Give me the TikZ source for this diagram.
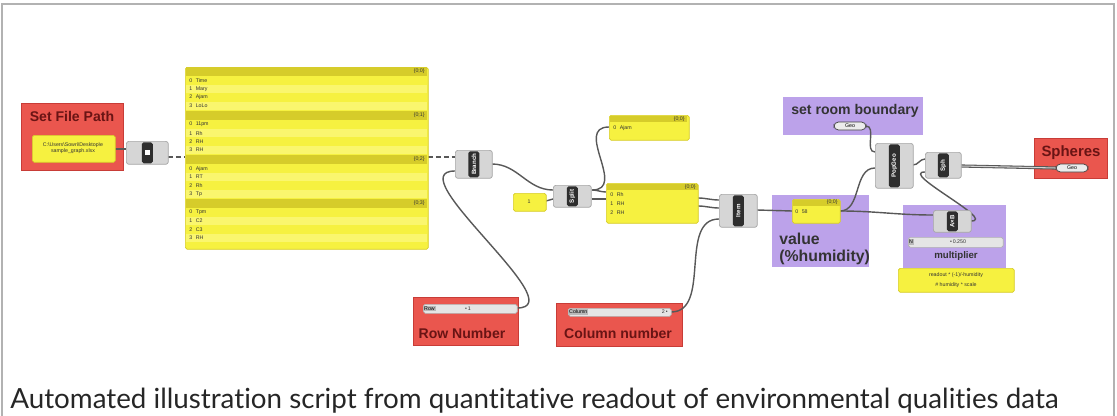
\documentclass[tikz,border=0pt]{standalone}
\usepackage{fontspec}
\setmainfont{Liberation Sans}
\newfontfamily\captionfont[Ligatures=NoCommon]{Lato}
\usetikzlibrary{positioning}

\definecolor{ghred}{RGB}{234,86,78}
\definecolor{ghredline}{RGB}{200,60,55}
\definecolor{ghtitle}{RGB}{105,20,20}
\definecolor{ghpurple}{RGB}{188,162,234}
\definecolor{ghyellow}{RGB}{246,241,64}
\definecolor{ghyellowlt}{RGB}{250,246,110}
\definecolor{ghyellowdk}{RGB}{214,204,42}
\definecolor{ghwire}{RGB}{88,88,88}
\definecolor{ghgray}{RGB}{214,214,214}

\begin{document}
\begin{tikzpicture}[x=0.02cm, y=-0.02cm,
    redgroup/.style={
        rectangle,
        draw=ghredline,
        fill=ghred,
        anchor=north west,
        inner sep=0pt},
    purplegroup/.style={
        rectangle,
        fill=ghpurple,
        anchor=north west,
        inner sep=0pt},
    grouptitle/.style={
        font=\bfseries\fontsize{8}{9}\selectfont,
        text=ghtitle,
        inner sep=0pt},
    panel/.style={
        rectangle,
        rounded corners=1pt,
        draw=ghyellowdk,
        fill=ghyellow,
        anchor=north west,
        inner sep=0pt},
    comp/.style={
        rectangle,
        rounded corners=1.5pt,
        draw=gray!70,
        fill=ghgray,
        anchor=north west,
        inner sep=0pt},
    compbar/.style={
        rectangle,
        rounded corners=1pt,
        fill=black!82,
        text=white,
        rotate=90,
        inner sep=0pt,
        minimum height=0.22cm,
        font=\bfseries\fontsize{3.5}{4}\selectfont},
    slider/.style={
        rectangle,
        rounded corners=1pt,
        draw=gray!60,
        fill=gray!20,
        anchor=north west,
        inner sep=0pt},
    slidertag/.style={
        rectangle,
        fill=gray!55,
        anchor=west,
        inner sep=0.5pt,
        font=\fontsize{3}{3.5}\selectfont},
    capsule/.style={
        rectangle,
        rounded corners=2.5pt,
        draw=gray!50!black,
        fill=gray!15,
        minimum width=0.64cm,
        minimum height=0.16cm,
        inner sep=0pt,
        font=\fontsize{3}{3.5}\selectfont},
    tiny/.style={
        font=\fontsize{3}{3.5}\selectfont,
        text=black!80,
        inner sep=0pt},
    wire/.style={
        draw=ghwire,
        line width=0.8pt},
    dashwire/.style={
        wire,
        dash pattern=on 3pt off 1.5pt}
    ]

    \useasboundingbox (0,0) rectangle (1117,416);
    \draw [gray!60, line width=0.6pt] (2,416) -- (2,4) -- (1114,4) -- (1114,416);

    % groups
    \node (pathgroup) [redgroup, minimum width=2.04cm, minimum height=1.34cm] at (21,103) {};
    \node (pathtitle) [grouptitle] at (72,116) {Set File Path};
    \node (rowgroup) [redgroup, minimum width=2.1cm, minimum height=0.96cm] at (413,297) {};
    \node (rowtitle) [grouptitle] at (462,333) {Row Number};
    \node (colgroup) [redgroup, minimum width=2.52cm, minimum height=0.86cm] at (556,303) {};
    \node (coltitle) [grouptitle] at (618,333) {Column number};
    \node (roomgroup) [purplegroup, minimum width=2.8cm, minimum height=0.76cm] at (783,97) {};
    \node (roomtitle) [grouptitle, text=black!80] at (855,111) {set room boundary};
    \node (valuegroup) [purplegroup, minimum width=1.94cm, minimum height=1.44cm] at (772,195) {};
    \node (valuetitle) [grouptitle, text=black!80, font=\bfseries\fontsize{9}{9.5}\selectfont, align=left, anchor=north west] at (779,233) {value\\(\%humidity)};
    \node (multgroup) [purplegroup, minimum width=2.06cm, minimum height=1.26cm] at (903,205) {};
    \node (multtitle) [grouptitle, text=black!80, font=\bfseries\fontsize{5.5}{6}\selectfont] at (956,256) {multiplier};
    \node (spheregroup) [redgroup, minimum width=1.46cm, minimum height=0.8cm] at (1034,138) {};
    \node (spheretitle) [grouptitle, font=\bfseries\fontsize{8.5}{9}\selectfont] at (1071,153) {Spheres};

    % ports
    \coordinate (pathout) at (115,149);
    \coordinate (readin) at (126,149);
    \coordinate (readout) at (168,157);
    \coordinate (tablein) at (185,157);
    \coordinate (tableout) at (428,157);
    \coordinate (branchin1) at (455,157);
    \coordinate (branchin2) at (455,171);
    \coordinate (rowout) at (517,308);
    \coordinate (branchout) at (492,164);
    \coordinate (splitin1) at (553,190);
    \coordinate (splitin2) at (553,199);
    \coordinate (oneout) at (546,201);
    \coordinate (splitout1) at (592,190);
    \coordinate (splitout2) at (592,199);
    \coordinate (listin1) at (606,192);
    \coordinate (listin2) at (606,199);
    \coordinate (ajamin) at (609,127);
    \coordinate (listout1) at (698,198);
    \coordinate (listout2) at (698,206);
    \coordinate (itemin1) at (719,200);
    \coordinate (itemin2) at (719,208);
    \coordinate (itemin3) at (719,219);
    \coordinate (colout) at (671,312);
    \coordinate (itemout) at (757,210);
    \coordinate (valuein) at (792,211);
    \coordinate (valueout) at (840,211);
    \coordinate (geoout) at (866,126);
    \coordinate (popin1) at (875,152);
    \coordinate (popin2) at (875,168);
    \coordinate (popout) at (913,165);
    \coordinate (multin) at (933,215);
    \coordinate (multout) at (971,221);
    \coordinate (sphin1) at (925,159);
    \coordinate (sphin2) at (925,172);
    \coordinate (sphout) at (961,166);
    \coordinate (spherein) at (1056,168);

    % wires
    \draw [wire] (pathout) -- (readin);
    \draw [dashwire] (readout) -- (tablein);
    \draw [dashwire] (tableout) -- (branchin1);
    \draw [wire] (rowout) to[out=0, in=180] (branchin2);
    \draw [wire] (branchout) to[out=0, in=180] (splitin1);
    \draw [wire] (oneout) to[out=0, in=180] (splitin2);
    \draw [wire] (splitout1) to[out=0, in=180] (listin1);
    \draw [wire] (splitout2) to[out=0, in=180] (listin2);
    \draw [wire] (splitout1) to[out=0, in=180, looseness=1.4] (ajamin);
    \draw [wire] (listout1) to[out=0, in=180] (itemin1);
    \draw [wire] (listout2) to[out=0, in=180] (itemin2);
    \draw [wire] (colout) to[out=0, in=180] (itemin3);
    \draw [wire] (itemout) -- (valuein);
    \draw [wire] (valueout) to[out=0, in=180] (popin2);
    \draw [wire] (valueout) to[out=0, in=180] (multin);
    \draw [wire] (geoout) to[out=0, in=180] (popin1);
    \draw [wire] (popout) to[out=0, in=180] (sphin1);
    \draw [wire] (multout) to[out=0, in=180] (sphin2);
    \draw [wire, line width=0.6pt, double=gray!35, double distance=0.6pt] (sphout) -- (spherein);

    % file path
    \node (pathpanel) [panel, minimum width=1.66cm, minimum height=0.54cm] at (32,135) {};
    \node (pathtext) [tiny, align=center] at (73,148) {C:\textbackslash Users\textbackslash Sowri\textbackslash Desktop\textbackslash e\\sample\_graph.xlsx};
    \node (readcomp) [comp, minimum width=0.84cm, minimum height=0.46cm] at (126,141) {};
    \node (readbar) [compbar, minimum width=0.42cm] at (readcomp.center) {};
    \node (readicon) [fill=white, minimum size=0.1cm, inner sep=0pt] at (readcomp.center) {};

    % data table
    \node (table) [panel, minimum width=4.86cm, minimum height=3.64cm] at (185,67) {};
    \foreach \s/\a/\b/\c/\d in {0/Time/Mary/Ajam/LoLo, 1/11pm/Rh/RH/RH, 2/Ajam/RT/Rh/Tp, 3/Tpm/C2/C3/RH} {
        \fill [ghyellowdk] (186,{67+44*\s}) rectangle (427,{75.5+44*\s});
        \fill [ghyellowlt] (186,{85+44*\s}) rectangle (427,{93.4+44*\s});
        \fill [ghyellowlt] (186,{101.8+44*\s}) rectangle (427,{110.2+44*\s});
        \node (head-\s) [tiny, anchor=east] at (425,{71.3+44*\s}) {\{0;\s\}};
        \node (row-\s-0) [tiny, anchor=west] at (189,{80.7+44*\s}) {0\hspace{2pt}\a};
        \node (row-\s-1) [tiny, anchor=west] at (189,{89.1+44*\s}) {1\hspace{2pt}\b};
        \node (row-\s-2) [tiny, anchor=west] at (189,{97.5+44*\s}) {2\hspace{2pt}\c};
        \node (row-\s-3) [tiny, anchor=west] at (189,{105.9+44*\s}) {3\hspace{2pt}\d};
    }

    % branch and split
    \node (branch) [comp, minimum width=0.74cm, minimum height=0.56cm] at (455,150) {};
    \node (branchbar) [compbar, minimum width=0.52cm] at (branch.center) {Branch};
    \node (rowslider) [slider, minimum width=1.88cm, minimum height=0.18cm] at (423,304) {};
    \node (rowtag) [slidertag] at (423,308.5) {Row};
    \node (rowvalue) [tiny] at (468,308.5) {\textbullet\,1};
    \node (onepanel) [panel, minimum width=0.66cm, minimum height=0.36cm] at (513,193) {};
    \node (onetext) [tiny] at (529,202) {1};
    \node (split) [comp, minimum width=0.76cm, minimum height=0.44cm] at (553,185) {};
    \node (splitbar) [compbar, minimum width=0.4cm] at (split.center) {Split};

    % lists
    \node (ajampanel) [panel, minimum width=1.6cm, minimum height=0.5cm] at (609,115) {};
    \fill [ghyellowdk] (609.5,115.5) rectangle (686.5,122);
    \node (ajamhead) [tiny, anchor=east] at (685,118.8) {\{0;0\}};
    \node (ajamrow) [tiny, anchor=west] at (613,128) {0\hspace{2pt}Ajam};
    \node (listpanel) [panel, minimum width=1.84cm, minimum height=0.8cm] at (606,183) {};
    \fill [ghyellowdk] (606.5,183.5) rectangle (697.5,190);
    \node (listhead) [tiny, anchor=east] at (696,186.8) {\{0;0\}};
    \node (listrow0) [tiny, anchor=west] at (610,195) {0\hspace{2pt}Rh};
    \node (listrow1) [tiny, anchor=west] at (610,204) {1\hspace{2pt}RH};
    \node (listrow2) [tiny, anchor=west] at (610,213) {2\hspace{2pt}RH};
    \node (colslider) [slider, minimum width=2.06cm, minimum height=0.16cm] at (568,308) {};
    \node (coltag) [slidertag] at (568,312) {Column};
    \node (colvalue) [tiny, anchor=east] at (668,312) {2\,\textbullet};
    \node (item) [comp, minimum width=0.76cm, minimum height=0.66cm] at (719,194) {};
    \node (itembar) [compbar, minimum width=0.62cm] at (item.center) {Item};

    % value and geometry
    \node (valuepanel) [panel, minimum width=0.96cm, minimum height=0.48cm] at (792,199) {};
    \fill [ghyellowdk] (792.5,199.5) rectangle (839.5,205.5);
    \node (valuehead) [tiny, anchor=east] at (838,202.5) {\{0;0\}};
    \node (valuerow) [tiny, anchor=west] at (795,212) {0\hspace{2pt}58};
    \node (geo) [capsule] at (850,126) {Geo};
    \node (popgeo) [comp, minimum width=0.76cm, minimum height=0.9cm] at (875,143) {};
    \node (popgeobar) [compbar, minimum width=0.86cm] at (popgeo.center) {PopGeo};
    \node (sph) [comp, minimum width=0.72cm, minimum height=0.52cm] at (925,152) {};
    \node (sphbar) [compbar, minimum width=0.48cm] at (sph.center) {Sph};
    \node (spheres) [capsule] at (1072,168) {Geo};

    % multiplier
    \node (mult) [comp, minimum width=0.76cm, minimum height=0.44cm] at (933,210) {};
    \node (multbar) [compbar, minimum width=0.4cm] at (mult.center) {A×B};
    \node (multslider) [slider, minimum width=1.9cm, minimum height=0.2cm] at (908,237) {};
    \node (multtag) [slidertag] at (908,242) {N};
    \node (multvalue) [tiny] at (958,242) {\textbullet\,0.250};
    \node (notepanel) [panel, minimum width=2.32cm, minimum height=0.48cm] at (898,268) {};
    \node (notetext) [tiny, align=center] at (956,280) {readout * (-1)/-humidity\\[2pt]\# humidity * scale};

    % caption
    \node (caption) [anchor=base west, inner sep=0pt, text=black!85, font=\captionfont\fontsize{15.8}{18}\selectfont] at (10,408) {Automated illustration script from quantitative readout of environmental qualities data};

\end{tikzpicture}
\end{document}
